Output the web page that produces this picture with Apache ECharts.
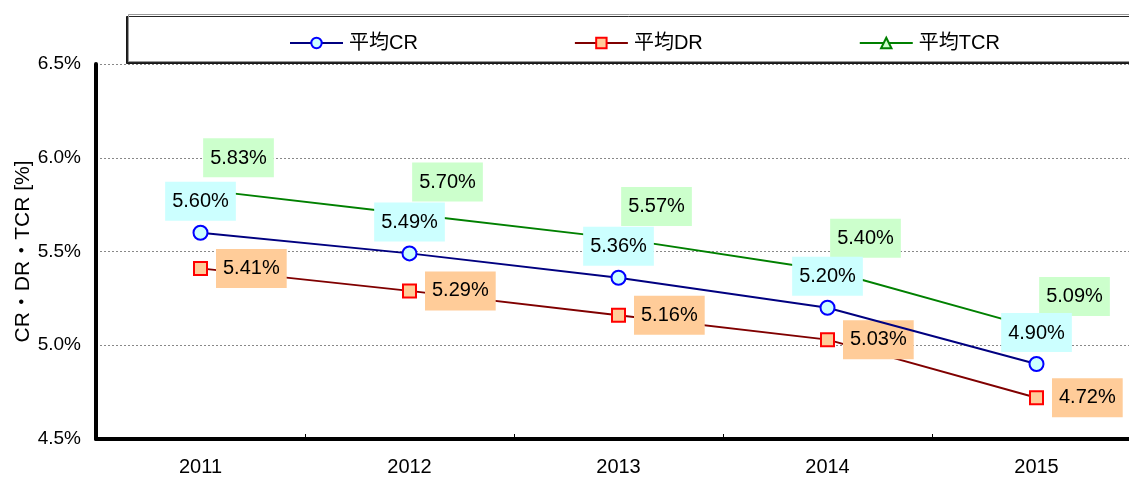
<!DOCTYPE html>
<html><head><meta charset="utf-8">
<script src="https://cdn.jsdelivr.net/npm/echarts@6/dist/echarts.min.js"></script>
<style>html,body{margin:0;padding:0;background:#fff}#c{width:1129px;height:478px}</style>
</head><body><div id="c"></div>
<script>
const years = ['2011','2012','2013','2014','2015'];
const crValues = [5.60, 5.49, 5.36, 5.20, 4.90];
const drValues = [5.41, 5.29, 5.16, 5.03, 4.72];
const tcrValues = [5.83, 5.70, 5.57, 5.40, 5.09];
const seriesNames = ['平均CR', '平均DR', '平均TCR'];
const yTicks = {min: 4.5, max: 6.5, step: 0.5};

const FONT = '"Liberation Sans", "Noto Sans CJK JP", sans-serif';
const chart = echarts.init(document.getElementById('c'));
function lbl(bg, pos, offset, dist){
  return {show:true, position:pos, offset:offset, distance:dist,
    formatter: p => p.value.toFixed(2)+'%', color:'#000', fontFamily:FONT, fontSize:20,
    backgroundColor:bg, padding:[10,7,9,7]};
}
chart.setOption({
  animation:false,
  graphic:[{type:'rect', left:128, top:14, shape:{width:1010, height:47},
    style:{fill:'#fff', stroke:'#999', lineWidth:1, shadowColor:'rgba(0,0,0,0.85)', shadowOffsetX:-2, shadowOffsetY:2, shadowBlur:0}, z:-1}],
  legend:{top:28, left:284, itemGap:156, itemWidth:53, itemHeight:13,
    textStyle:{fontFamily:FONT, fontSize:20, color:'#000', padding:[0,0,0,1]},
    data:[{name:seriesNames[0]},{name:seriesNames[1]},
      {name:seriesNames[2], itemStyle:{color:'#ccffcc', borderColor:'#008000', borderWidth:2}}]},
  grid:{left:96, top:64, width:1045, height:375, outerBoundsMode:'none', containLabel:false},
  xAxis:{type:'category', data:years, boundaryGap:true,
    axisLine:{lineStyle:{color:'#000', width:4}},
    axisTick:{show:true, inside:true, length:5, lineStyle:{color:'#000', width:1}},
    axisLabel:{fontFamily:FONT, fontSize:20, color:'#000', margin:18}},
  yAxis:{type:'value', min:yTicks.min, max:yTicks.max, interval:yTicks.step,
    name:'CR・DR・TCR [%]', nameLocation:'middle', nameGap:62, nameRotate:90, nameMoveOverlap:false,
    nameTextStyle:{fontFamily:FONT, fontSize:21, color:'#000'},
    axisLine:{show:true, lineStyle:{color:'#000', width:4}},
    axisTick:{show:false},
    axisLabel:{fontFamily:FONT, fontSize:19, color:'#000', margin:15, formatter:v=>v.toFixed(1)+'%'},
    splitLine:{show:true, lineStyle:{color:'#888', type:[2,2], width:1}}},
  series:[
    {name:seriesNames[0], type:'line', data:crValues, symbol:'circle', symbolSize:14,
      lineStyle:{color:'#000080', width:2}, itemStyle:{color:'#ccffff', borderColor:'#0000ff', borderWidth:2},
      label:lbl('#ccffff','top',[0,0],4), z:3},
    {name:seriesNames[1], type:'line', data:drValues, symbol:'rect', symbolSize:13,
      lineStyle:{color:'#800000', width:2}, itemStyle:{color:'#ffcc99', borderColor:'#ff0000', borderWidth:2},
      label:lbl('#ffcc99','right',[0,0],8), z:2},
    {name:seriesNames[2], type:'line', data:tcrValues, symbol:'triangle', symbolSize:1,
      lineStyle:{color:'#008000', width:2}, itemStyle:{color:'transparent', borderColor:'transparent', borderWidth:0},
      label:lbl('#ccffcc','top',[38,0],12), z:1}
  ]
});
</script></body></html>
